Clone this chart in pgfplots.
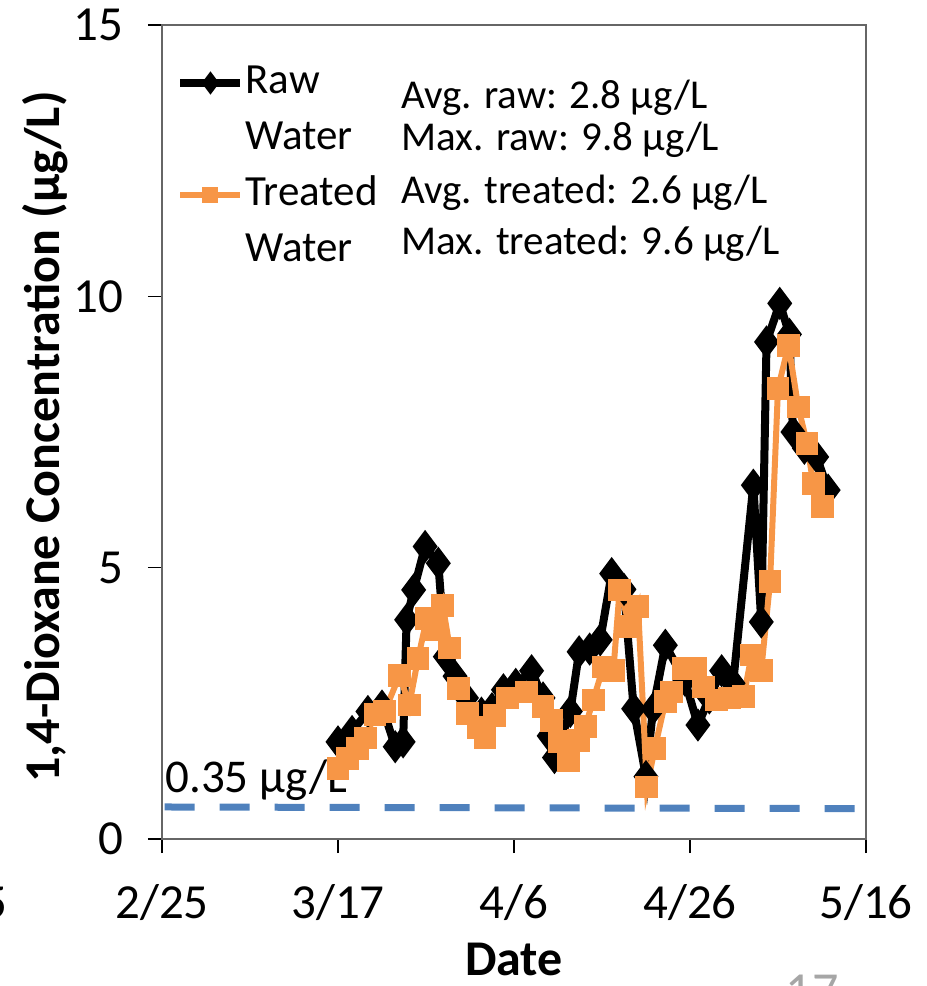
\documentclass[border=0pt]{standalone}
\usepackage{fontspec}
\setmainfont{Carlito}
\usepackage{pgfplots}
\pgfplotsset{compat=1.18}
\definecolor{rawblack}{HTML}{000000}
\definecolor{treatorange}{HTML}{F79646}
\definecolor{limitblue}{HTML}{4F81BD}

\begin{document}
\begin{tikzpicture}
\begin{axis}[
  scale only axis, width=352pt, height=407pt,
  xmin=0, xmax=80, ymin=0, ymax=15,
  xtick={0,20,40,60,80}, xticklabels={2/25,3/17,4/6,4/26,5/16},
  ytick={0,5,10,15},
  xtick pos=bottom, ytick pos=left, tick align=outside,
  major tick length=7pt,
  every tick/.style={black, line width=0.8pt},
  axis line style={black!60, line width=0.9pt},
  /pgf/number format/assume math mode=true,
  tick label style={font=\fontsize{24.5}{28}\selectfont},
  yticklabel style={xshift=-9pt},
  xticklabel style={yshift=-12pt},
  xlabel={Date}, ylabel={1,4-Dioxane Concentration (µg/L)},
  label style={font=\bfseries\fontsize{25}{29}\selectfont},
  xlabel style={at={(axis description cs:0.5,-0.168)}, anchor=base, inner sep=0pt},
  ylabel style={at={(axis description cs:-0.166,0.494)}, anchor=center},
  legend style={draw=none, fill=none, at={(axis description cs:0.02,0.955)}, anchor=north west,
    font=\fontsize{21.5}{25}\selectfont, inner sep=0pt, row sep=7pt,
    nodes={inner sep=0.5pt, text height=15pt, text depth=5pt}},
  legend cell align=left,
  legend image code/.code={\draw[mark repeat=2,mark phase=2,#1, mark size=2.5pt] plot coordinates {(0pt,0pt) (15pt,0pt) (30pt,0pt)};},
  clip=false,
]
\addplot[limitblue, line width=3.5pt, dash pattern=on 15pt off 12.5pt, forget plot]
  coordinates {(0.3,0.59) (78.9,0.56)};
\addplot[rawblack, line width=4pt, mark=diamond*, mark size=5pt]
  coordinates {
  (20.0,1.79) (21.6,1.98) (23.4,2.35) (25.0,2.45) (26.5,1.70) (27.4,1.79)
  (27.8,4.04) (28.6,4.59) (29.9,5.39) (31.4,5.08) (32.2,3.36) (33.3,3.00)
  (34.6,2.60) (36.3,2.32) (37.5,2.40) (38.8,2.75) (40.2,2.85) (42.0,3.10)
  (43.3,2.60) (44.0,1.90) (44.6,1.50) (46.4,2.35) (47.4,3.45) (48.6,3.50)
  (49.8,3.67) (51.1,4.89) (52.5,4.60) (53.6,2.40) (55.0,1.15) (55.8,2.40)
  (57.2,3.57) (59.4,2.93) (60.9,2.10) (62.2,2.60) (63.6,3.10) (64.9,2.87)
  (67.2,6.52) (68.1,4.00) (68.7,9.16) (70.2,9.87) (71.3,9.30) (71.7,7.50)
  (73.0,7.20) (74.4,7.04) (75.7,6.43)};
\addlegendentry{Raw}
\addlegendimage{empty legend}
\addlegendentry{Water}
\addplot[treatorange, line width=3pt, mark=square*, mark size=4.2pt]
  coordinates {
  (20.0,1.30) (21.1,1.48) (22.2,1.67) (23.1,1.86) (24.2,2.30) (25.3,2.35)
  (27.0,3.02) (28.1,2.47) (29.1,3.33) (30.1,4.07) (31.0,3.85) (31.9,4.31)
  (32.7,3.52) (33.7,2.78) (34.7,2.32) (35.9,2.05) (36.7,1.86) (37.8,2.28)
  (39.3,2.60) (41.4,2.71) (43.3,2.44) (44.3,2.19) (45.2,1.79) (46.2,1.45)
  (47.3,1.82) (48.1,2.07) (49.0,2.56) (50.15,3.17) (51.3,3.11) (52.0,4.59)
  (53.2,3.91) (54.1,4.28) (55.1,0.96) (56.0,1.67) (57.2,2.53) (57.9,2.71)
  (59.2,3.14) (60.6,3.15) (61.5,2.80) (63.0,2.56) (64.5,2.60) (66.1,2.62)
  (67.0,3.39) (68.1,3.11) (69.1,4.74) (70.0,8.30) (71.2,9.10) (72.3,7.96)
  (73.3,7.29) (74.0,6.55) (75.1,6.12)};
\addlegendentry{Treated}
\addlegendimage{empty legend}
\addlegendentry{Water}
\node[anchor=base west, inner sep=0pt, font=\fontsize{23.5}{27}\selectfont] at (axis cs:0.35,0.85) {0.35 µg/L};
\begin{scope}[every node/.style={anchor=base west, inner sep=0pt, font=\fontsize{20.5}{24}\selectfont}]
\node at (rel axis cs:0.3395,0.897) {Avg. raw: 2.8 µg/L};
\node at (rel axis cs:0.3395,0.846) {Max. raw: 9.8 µg/L};
\node at (rel axis cs:0.3395,0.781) {Avg. treated: 2.6 µg/L};
\node at (rel axis cs:0.3395,0.718) {Max. treated: 9.6 µg/L};
\end{scope}
\end{axis}
\node[anchor=east, inner sep=0pt, font=\fontsize{24.5}{28}\selectfont] at (-77pt,-32pt) {5};
\node[anchor=north, inner sep=0pt, text=black!35, font=\fontsize{26}{30}\selectfont] at (325pt,-68pt) {17};
\pgfresetboundingbox
\useasboundingbox (-81pt,-73.5pt) rectangle (382.5pt,419.5pt);
\end{tikzpicture}
\end{document}
